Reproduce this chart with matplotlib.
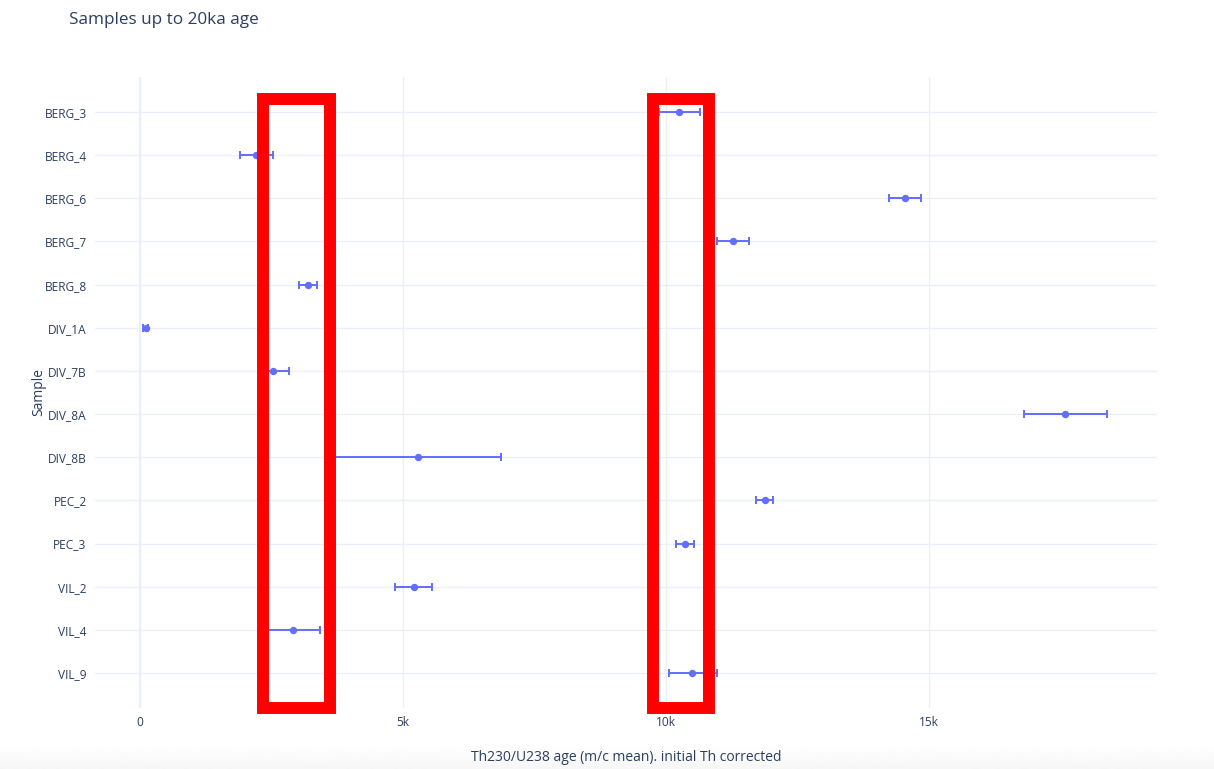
import matplotlib
matplotlib.use("Agg")
import matplotlib.pyplot as plt
from matplotlib.patches import Rectangle
import numpy as np

# samples, top to bottom
samples = ["BERG_3", "BERG_4", "BERG_6", "BERG_7", "BERG_8", "DIV_1A", "DIV_7B",
           "DIV_8A", "DIV_8B", "PEC_2", "PEC_3", "VIL_2", "VIL_4", "VIL_9"]
# Th230/U238 age (m/c mean), years
ages = [10250, 2210, 14540, 11270, 3190, 110, 2530,
        17590, 5290, 11870, 10360, 5200, 2900, 10500]
err_minus = [380, 310, 300, 300, 170, 50, 260,
             790, 1680, 170, 170, 350, 520, 450]
err_plus = [390, 310, 300, 300, 170, 50, 300,
            790, 1570, 170, 170, 350, 520, 460]

# highlight boxes (x range in years) drawn over the plot
boxes = [(2340, 3610), (9760, 10820)]

TXT = "#2a3f5f"
GRID = "#EBF0F8"
BLUE = "#636efa"

plt.rcParams["font.family"] = ["Open Sans", "DejaVu Sans"]

fig = plt.figure(figsize=(12.14, 7.69), dpi=100)
ax = fig.add_axes([95 / 1214, 1 - 708 / 769, (1157 - 95) / 1214, (708 - 77) / 769])

y = np.arange(len(samples))
ax.errorbar(ages, y, xerr=[err_minus, err_plus], fmt="o", color=BLUE,
            ecolor=BLUE, elinewidth=1.4, capsize=3, capthick=1.4,
            markersize=4.3, zorder=3)

ax.set_yticks(y)
ax.set_yticklabels(samples)
ax.set_ylim(len(samples) - 1 + 0.81, -0.81)
ax.set_xlim(-855, 19330)
ax.set_xticks([0, 5000, 10000, 15000])
ax.set_xticklabels(["0", "5k", "10k", "15k"])

ax.grid(True, color=GRID, lw=1.0, zorder=0)
ax.axvline(0, color=GRID, lw=1.6, zorder=0)
for s in ax.spines.values():
    s.set_visible(False)
ax.tick_params(length=0, labelsize=8.6, labelcolor=TXT)
ax.tick_params(axis="y", pad=6)
ax.tick_params(axis="x", pad=6)

ax.set_ylabel("Sample", fontsize=10, color=TXT, labelpad=-1)
ax.set_xlabel("Th230/U238 age (m/c mean). initial Th corrected",
              fontsize=10, color=TXT, labelpad=15)
fig.text(69 / 1214, 1 - 20 / 769, "Samples up to 20ka age", fontsize=12.3,
         color=TXT, va="center", ha="left")

for x0, x1 in boxes:
    ax.add_patch(Rectangle((x0, -0.3), x1 - x0, 14.11, fill=False,
                           edgecolor="red", lw=8.6, clip_on=False,
                           joinstyle="miter", zorder=5))

# faint grey band at the bottom of the screenshot
bg = fig.add_axes([0, 0, 1, 24 / 769], zorder=-1)
bg.imshow(np.linspace(1.0, 0.965, 50).reshape(-1, 1), cmap="gray", vmin=0, vmax=1,
          aspect="auto", extent=[0, 1, 0, 1], origin="upper")
bg.axis("off")

fig.savefig("out.png", dpi=100)
